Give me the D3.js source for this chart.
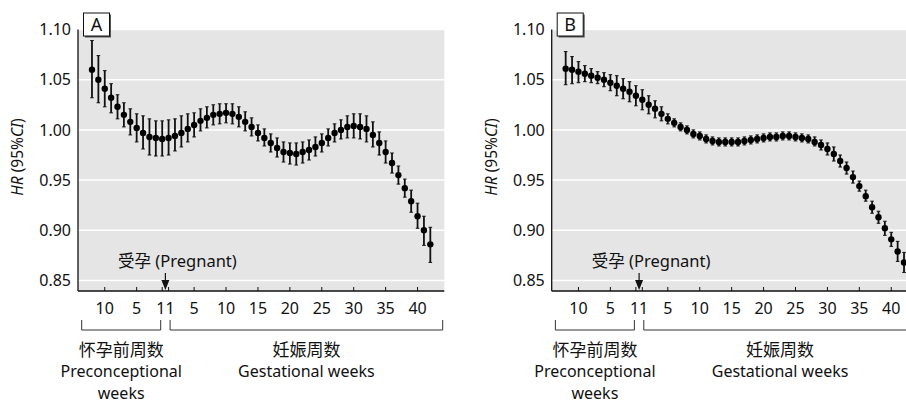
<!DOCTYPE html>
<html>
<head>
<meta charset="utf-8">
<script src="https://cdn.jsdelivr.net/npm/d3@7"></script>
<style>
body { margin: 0; background: #fff; }
svg { display: block; font-family: "Noto Sans", "Noto Sans CJK SC", sans-serif; }
</style>
</head>
<body>
<div id="chart"></div>
<script>

// weeks: 12 preconceptional weeks then 42 gestational weeks
var preWeeks = [12, 11, 10, 9, 8, 7, 6, 5, 4, 3, 2, 1];
var gestWeeks = [1, 2, 3, 4, 5, 6, 7, 8, 9, 10, 11, 12, 13, 14, 15, 16, 17, 18, 19, 20, 21,
	22, 23, 24, 25, 26, 27, 28, 29, 30, 31, 32, 33, 34, 35, 36, 37, 38, 39, 40, 41, 42];
var tickWeeks = ['P10', 'P5', 'P1', 'G1', 'G5', 'G10', 'G15', 'G20', 'G25', 'G30', 'G35', 'G40'];
// the two "1" labels sit side by side and read as "11"
var tickLabels = [['P10', '10'], ['P5', '5'], ['P1|G1', '11'], ['G5', '5'], ['G10', '10'],
	['G15', '15'], ['G20', '20'], ['G25', '25'], ['G30', '30'], ['G35', '35'], ['G40', '40']];
var yTicks = [0.85, 0.90, 0.95, 1.00, 1.05, 1.10];

// panel A
var hrA = [1.060, 1.050, 1.041, 1.032, 1.023, 1.015, 1.008, 1.002, 0.997, 0.993, 0.992, 0.991,
	0.992, 0.994, 0.997, 1.001, 1.005, 1.009, 1.012, 1.015, 1.016, 1.017, 1.016, 1.013, 1.008,
	1.003, 0.997, 0.992, 0.987, 0.982, 0.978, 0.977, 0.976, 0.978, 0.980, 0.983, 0.987, 0.992,
	0.997, 1.000, 1.003, 1.004, 1.003, 1.001, 0.995, 0.987, 0.978, 0.967, 0.955, 0.942, 0.929,
	0.914, 0.900, 0.886];
var loA = [1.032, 1.027, 1.023, 1.017, 1.011, 1.003, 0.995, 0.988, 0.981, 0.975, 0.974, 0.974,
	0.975, 0.979, 0.983, 0.988, 0.993, 0.999, 1.002, 1.005, 1.006, 1.007, 1.006, 1.003, 0.999,
	0.994, 0.989, 0.984, 0.978, 0.973, 0.968, 0.966, 0.965, 0.967, 0.970, 0.974, 0.978, 0.984,
	0.988, 0.991, 0.992, 0.992, 0.991, 0.988, 0.983, 0.975, 0.967, 0.957, 0.946, 0.933, 0.918,
	0.902, 0.885, 0.868];
var hiA = [1.089, 1.074, 1.059, 1.046, 1.035, 1.027, 1.021, 1.016, 1.014, 1.011, 1.009, 1.009,
	1.010, 1.011, 1.014, 1.016, 1.017, 1.021, 1.023, 1.025, 1.026, 1.026, 1.026, 1.023, 1.018,
	1.012, 1.005, 1.001, 0.996, 0.992, 0.988, 0.987, 0.987, 0.988, 0.990, 0.993, 0.996, 1.001,
	1.006, 1.010, 1.014, 1.016, 1.016, 1.014, 1.008, 0.998, 0.989, 0.977, 0.964, 0.951, 0.940,
	0.927, 0.914, 0.903];

// panel B
var hrB = [1.061, 1.060, 1.058, 1.056, 1.054, 1.052, 1.050, 1.047, 1.044, 1.041, 1.038, 1.034,
	1.030, 1.025, 1.021, 1.016, 1.011, 1.007, 1.003, 1.000, 0.996, 0.994, 0.991, 0.989, 0.988,
	0.988, 0.988, 0.988, 0.989, 0.990, 0.991, 0.992, 0.993, 0.993, 0.994, 0.994, 0.993, 0.992,
	0.991, 0.988, 0.985, 0.981, 0.976, 0.969, 0.962, 0.953, 0.944, 0.934, 0.923, 0.913, 0.902,
	0.891, 0.879, 0.868];
var loB = [1.045, 1.046, 1.047, 1.048, 1.047, 1.046, 1.043, 1.039, 1.034, 1.031, 1.028, 1.024,
	1.020, 1.016, 1.012, 1.009, 1.006, 1.003, 0.999, 0.996, 0.992, 0.990, 0.987, 0.985, 0.984,
	0.984, 0.984, 0.984, 0.985, 0.986, 0.987, 0.988, 0.989, 0.989, 0.990, 0.990, 0.989, 0.988,
	0.987, 0.984, 0.980, 0.975, 0.969, 0.963, 0.956, 0.947, 0.939, 0.929, 0.917, 0.907, 0.895,
	0.884, 0.869, 0.858];
var hiB = [1.078, 1.073, 1.068, 1.064, 1.061, 1.058, 1.057, 1.055, 1.054, 1.051, 1.048, 1.044,
	1.040, 1.034, 1.029, 1.023, 1.016, 1.011, 1.007, 1.004, 1.000, 0.998, 0.995, 0.993, 0.992,
	0.992, 0.992, 0.992, 0.993, 0.994, 0.995, 0.996, 0.997, 0.997, 0.998, 0.998, 0.997, 0.996,
	0.995, 0.993, 0.990, 0.987, 0.983, 0.975, 0.968, 0.959, 0.949, 0.940, 0.929, 0.919, 0.909,
	0.898, 0.889, 0.878];

var keys = preWeeks.map(function(w) { return 'P' + w; })
	.concat(gestWeeks.map(function(w) { return 'G' + w; }));

var panels = [
	{ label: 'A', x0: 78, hr: hrA, lo: loA, hi: hiA },
	{ label: 'B', x0: 551.7, hr: hrB, lo: loB, hi: hiB }
];

var width = 906, height = 403;
var pw = 366.3, yBottom = 291;
var ink = '#111';

var svg = d3.select('#chart').append('svg')
	.attr('width', width)
	.attr('height', height);

var x = d3.scalePoint()
	.domain(keys)
	.range([0, pw])
	.padding(2.19);

// label position: a "A|B" key sits between the two categories
var xl = function(k) {
	var parts = k.split('|');
	return d3.mean(parts, function(p) { return x(p); });
};

var y = d3.scaleLinear()
	.domain([0.85, 1.10])
	.range([280.5, 29.5]);

panels.forEach(function(p) {
	var g = svg.append('g')
		.attr('transform', 'translate(' + p.x0 + ',0)');

	// background + grid
	g.append('rect')
		.attr('x', 0)
		.attr('y', y(1.10))
		.attr('width', pw)
		.attr('height', yBottom - y(1.10))
		.attr('fill', '#e5e5e5');

	g.selectAll('line.grid')
		.data(yTicks)
		.enter().append('line')
		.attr('class', 'grid')
		.attr('x1', 0).attr('x2', pw)
		.attr('y1', function(d) { return y(d); })
		.attr('y2', function(d) { return y(d); })
		.attr('stroke', '#fff')
		.attr('stroke-width', 1.5);

	// y labels
	g.selectAll('text.ylab')
		.data(yTicks)
		.enter().append('text')
		.attr('class', 'ylab')
		.attr('x', -7)
		.attr('y', function(d) { return y(d); })
		.attr('dy', '0.35em')
		.attr('text-anchor', 'end')
		.attr('font-size', 16)
		.attr('fill', ink)
		.text(function(d) { return d.toFixed(2); });

	// y title
	var t = g.append('text')
		.attr('transform', 'translate(-60,157) rotate(-90)')
		.attr('text-anchor', 'middle')
		.attr('dy', '0.35em')
		.attr('font-size', 15.5)
		.attr('fill', ink);
	t.append('tspan').attr('font-style', 'italic').text('HR');
	t.append('tspan').text(' (95%');
	t.append('tspan').attr('font-style', 'italic').text('CI');
	t.append('tspan').text(')');

	// x ticks (pointing inward)
	g.selectAll('line.xtick')
		.data(tickWeeks)
		.enter().append('line')
		.attr('class', 'xtick')
		.attr('x1', function(d) { return x(d); })
		.attr('x2', function(d) { return x(d); })
		.attr('y1', yBottom)
		.attr('y2', yBottom - 4)
		.attr('stroke', ink)
		.attr('stroke-width', 1);

	g.selectAll('text.xlab')
		.data(tickLabels)
		.enter().append('text')
		.attr('class', 'xlab')
		.attr('x', function(d) { return xl(d[0]); })
		.attr('y', 308)
		.attr('dy', '0.35em')
		.attr('text-anchor', 'middle')
		.attr('font-size', 16)
		.attr('fill', ink)
		.text(function(d) { return d[1]; });

	// axes
	g.append('line')
		.attr('x1', 0).attr('x2', 0)
		.attr('y1', y(1.10)).attr('y2', yBottom)
		.attr('stroke', ink).attr('stroke-width', 1.3);
	g.append('line')
		.attr('x1', 0).attr('x2', pw)
		.attr('y1', yBottom).attr('y2', yBottom)
		.attr('stroke', ink).attr('stroke-width', 1.3);

	// error bars + points
	var pts = keys.map(function(k, i) {
		return { k: k, hr: p.hr[i], lo: p.lo[i], hi: p.hi[i] };
	});

	var bars = g.append('g').attr('class', 'bars');
	bars.selectAll('line.eb')
		.data(pts)
		.enter().append('line')
		.attr('class', 'eb')
		.attr('x1', function(d) { return x(d.k); })
		.attr('x2', function(d) { return x(d.k); })
		.attr('y1', function(d) { return y(d.lo); })
		.attr('y2', function(d) { return y(d.hi); })
		.attr('stroke', ink)
		.attr('stroke-width', 1.8);
	['lo', 'hi'].forEach(function(end) {
		bars.selectAll('line.cap' + end)
			.data(pts)
			.enter().append('line')
			.attr('class', 'cap' + end)
			.attr('x1', function(d) { return x(d.k) - 1.8; })
			.attr('x2', function(d) { return x(d.k) + 1.8; })
			.attr('y1', function(d) { return y(d[end]); })
			.attr('y2', function(d) { return y(d[end]); })
			.attr('stroke', ink)
			.attr('stroke-width', 1);
	});
	bars.selectAll('circle')
		.data(pts)
		.enter().append('circle')
		.attr('cx', function(d) { return x(d.k); })
		.attr('cy', function(d) { return y(d.hr); })
		.attr('r', 3.2)
		.attr('fill', '#000');

	// conception arrow
	var ax = xl('P1|G1');
	g.append('text')
		.attr('x', ax + 12)
		.attr('y', 261)
		.attr('dy', '0.35em')
		.attr('text-anchor', 'middle')
		.attr('font-size', 16.5)
		.attr('fill', ink)
		.text('受孕 (Pregnant)');
	g.append('line')
		.attr('x1', ax).attr('x2', ax)
		.attr('y1', 273).attr('y2', 282)
		.attr('stroke', ink).attr('stroke-width', 1.2);
	g.append('path')
		.attr('d', 'M' + (ax - 4) + ',280L' + (ax + 4) + ',280L' + ax + ',290Z')
		.attr('fill', ink);

	// panel label
	g.append('rect')
		.attr('x', 7).attr('y', 14.5)
		.attr('width', 26).attr('height', 23)
		.attr('fill', '#555');
	g.append('rect')
		.attr('x', 5.5).attr('y', 13)
		.attr('width', 26).attr('height', 23)
		.attr('fill', '#fff')
		.attr('stroke', ink)
		.attr('stroke-width', 1);
	g.append('text')
		.attr('x', 18.5).attr('y', 24.5)
		.attr('dy', '0.35em')
		.attr('text-anchor', 'middle')
		.attr('font-size', 18)
		.attr('fill', ink)
		.text(p.label);

	// brackets under the axis
	var brackets = [
		{ x1: x('P12') - 10.3, x2: x('P1') - 1.5, lines: ['怀孕前周数', 'Preconceptional', 'weeks'] },
		{ x1: x('G1') + 1.5, x2: pw - 1.6, lines: ['妊娠周数', 'Gestational weeks'] }
	];
	brackets.forEach(function(b) {
		g.append('path')
			.attr('d', 'M' + b.x1 + ',320V330H' + b.x2 + 'V320')
			.attr('fill', 'none')
			.attr('stroke', '#333')
			.attr('stroke-width', 1);
		b.lines.forEach(function(s, i) {
			g.append('text')
				.attr('x', (b.x1 + b.x2) / 2)
				.attr('y', 350 + i * 21.7)
				.attr('dy', '0.35em')
				.attr('text-anchor', 'middle')
				.attr('font-size', i === 0 ? 17 : 16)
				.attr('fill', ink)
				.text(s);
		});
	});
});

</script>
</body>
</html>
